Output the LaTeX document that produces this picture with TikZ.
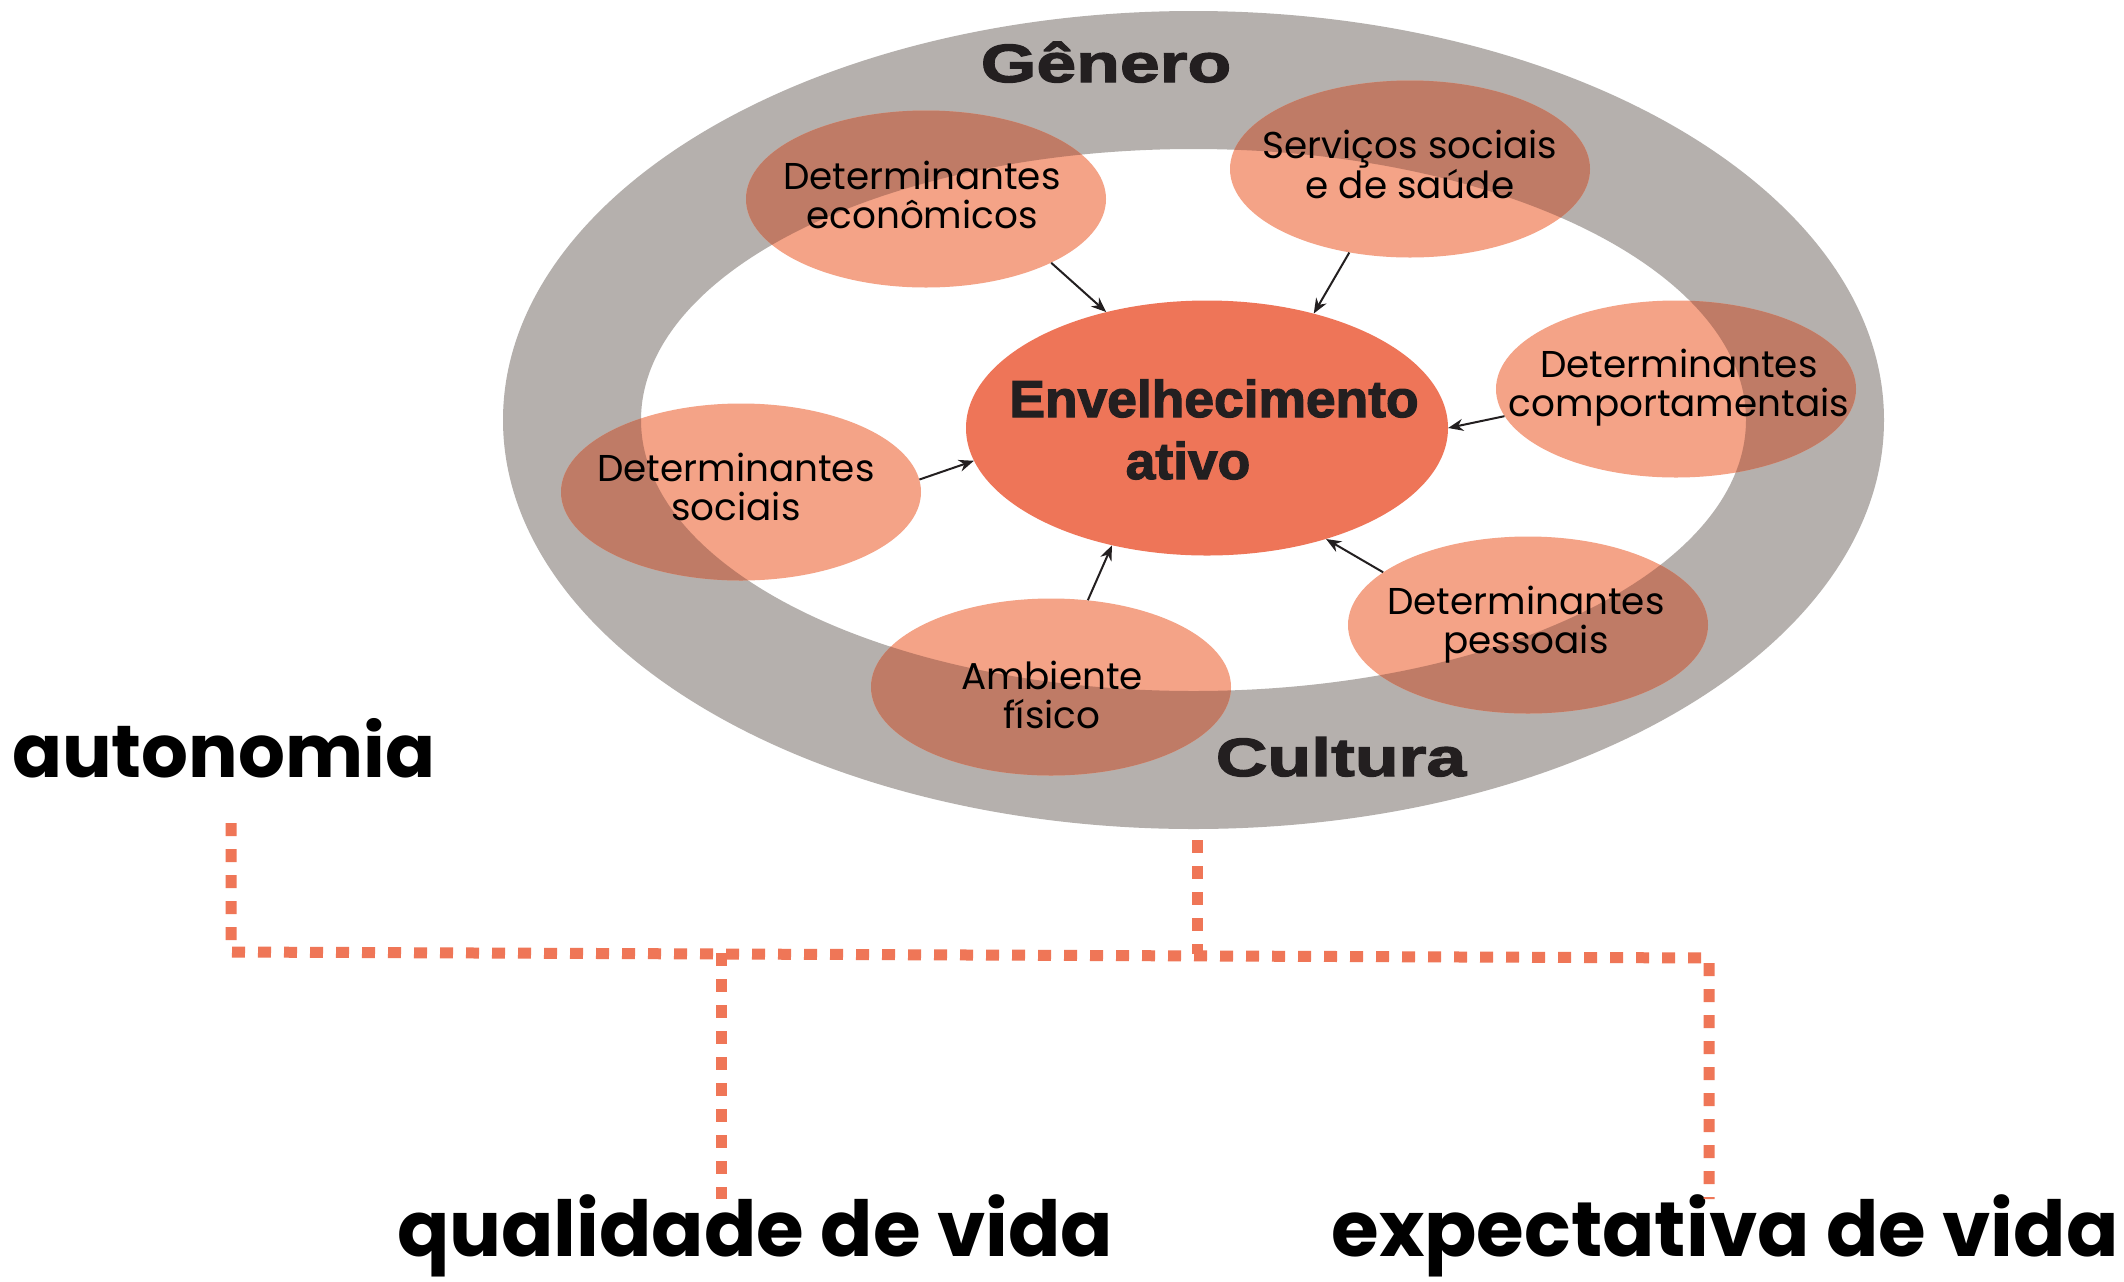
\documentclass[tikz,border=0pt]{standalone}
\usepackage{fontspec}
\setmainfont{Poppins}
\newfontfamily\widefont{Liberation Sans}[FakeStretch=1.33,FakeBold=2.4]
\newfontfamily\heavyfont{Liberation Sans}[FakeStretch=1.03,FakeBold=2.4]
\usetikzlibrary{shapes.geometric,arrows.meta}
\definecolor{ringgray}{HTML}{B5B0AD}
\definecolor{salmon}{HTML}{F4A387}
\definecolor{overlap}{HTML}{BF7B66}
\definecolor{coreorange}{HTML}{EE7558}
\definecolor{dotorange}{HTML}{EF7657}
\definecolor{inkblack}{HTML}{231F20}
\begin{document}
\begin{tikzpicture}[x=1bp,y=-1bp,
  blob/.style={ellipse, fill=salmon, draw=none, minimum width=360bp, minimum height=177bp, inner sep=0pt},
  corebox/.style={ellipse, fill=coreorange, draw=none, minimum width=482bp, minimum height=255bp, inner sep=0pt},
  lbl/.style={align=center, font=\fontsize{37.5}{39}\selectfont, text=black, inner sep=0pt},
  arr/.style={-{Stealth[length=15bp,width=12bp]}, line width=2bp, draw=inkblack},
  dots/.style={draw=dotorange, line width=11bp, dash pattern=on 13bp off 13bp},
  big/.style={font=\fontsize{77.5}{90}\selectfont\bfseries, text=black, inner sep=0pt},
  wide/.style={font=\widefont\bfseries\fontsize{54}{60}\selectfont, text=inkblack, inner sep=0pt, anchor=base},
  heavy/.style={font=\heavyfont\bfseries\fontsize{52}{60}\selectfont, text=inkblack, inner sep=0pt, anchor=base},
]
\useasboundingbox (0,0) rectangle (2124,1281);
\fill[white] (0,0) rectangle (2124,1281);
% ring
\fill[ringgray, even odd rule] (1193.5,420) ellipse [x radius=690.5, y radius=409]
  (1193.5,420) ellipse [x radius=552.5, y radius=271];
% small ellipses with darker overlap on the ring
\foreach \n/\x/\y in {econ/926/199, serv/1410/169, comp/1676/389, soci/741/492, pess/1528/625, ambi/1051/687} {
  \node[blob] (\n) at (\x,\y) {};
  \begin{scope}
    \clip (\x,\y) ellipse [x radius=180, y radius=88.5];
    \fill[overlap, even odd rule] (1193.5,420) ellipse [x radius=690.5, y radius=409]
      (1193.5,420) ellipse [x radius=552.5, y radius=271];
  \end{scope}
}
% centre
\node[corebox] (core) at (1207,428) {};
\node[heavy] (env1) at (1214,417) {Envelhecimento};
\node[heavy] (env2) at (1188,479) {ativo};
% ring labels
\node[wide] (gen) at (1106,82) {Gênero};
\node[wide] (cul) at (1341,776) {Cultura};
% small labels
\node[lbl] (econT) at (922,195) {Determinantes\\econômicos};
\node[lbl] (servT) at (1410,164) {Serviços sociais\\e de saúde};
\node[lbl] (compT) at (1679,388) {Determinantes\\comportamentais};
\node[lbl] (sociT) at (736,487) {Determinantes\\sociais};
\node[lbl] (pessT) at (1526,625) {Determinantes\\pessoais};
\node[lbl] (ambiT) at (1052,695) {Ambiente\\físico};
% arrows
\draw[arr] (econ.-27) -- (core.131);
\draw[arr] (serv.234) -- (core.47);
\draw[arr] (comp.189) -- (core.0.5);
\draw[arr] (soci.4.8) -- (core.188.5);
\draw[arr] (ambi.67) -- (core.231.7);
\draw[arr] (pess.160.3) -- (core.-43.2);
% bottom labels
\node[big, font=\fontsize{74}{90}\selectfont\bfseries, anchor=base west] (auto) at (12,777) {autonomia};
\node[big, anchor=base] (qual) at (755,1256) {qualidade de vida};
\node[big, anchor=base] (expe) at (1725,1256) {expectativa de vida};
% dotted connectors
\coordinate (aTop) at (231,823);
\coordinate (jL) at (231,952);
\coordinate (jQ) at (721,953);
\coordinate (jC) at (1197,954);
\coordinate (jR) at (1709,958);
\coordinate (cTop) at (1197,840);
\coordinate (qBot) at (721,1199);
\coordinate (rBot) at (1709,1199);
\draw[dots] (aTop) -- (jL) -- (jR) -- (rBot);
\draw[dots] (cTop) -- (jC);
\draw[dots] (jQ) -- (qBot);
\end{tikzpicture}
\end{document}
